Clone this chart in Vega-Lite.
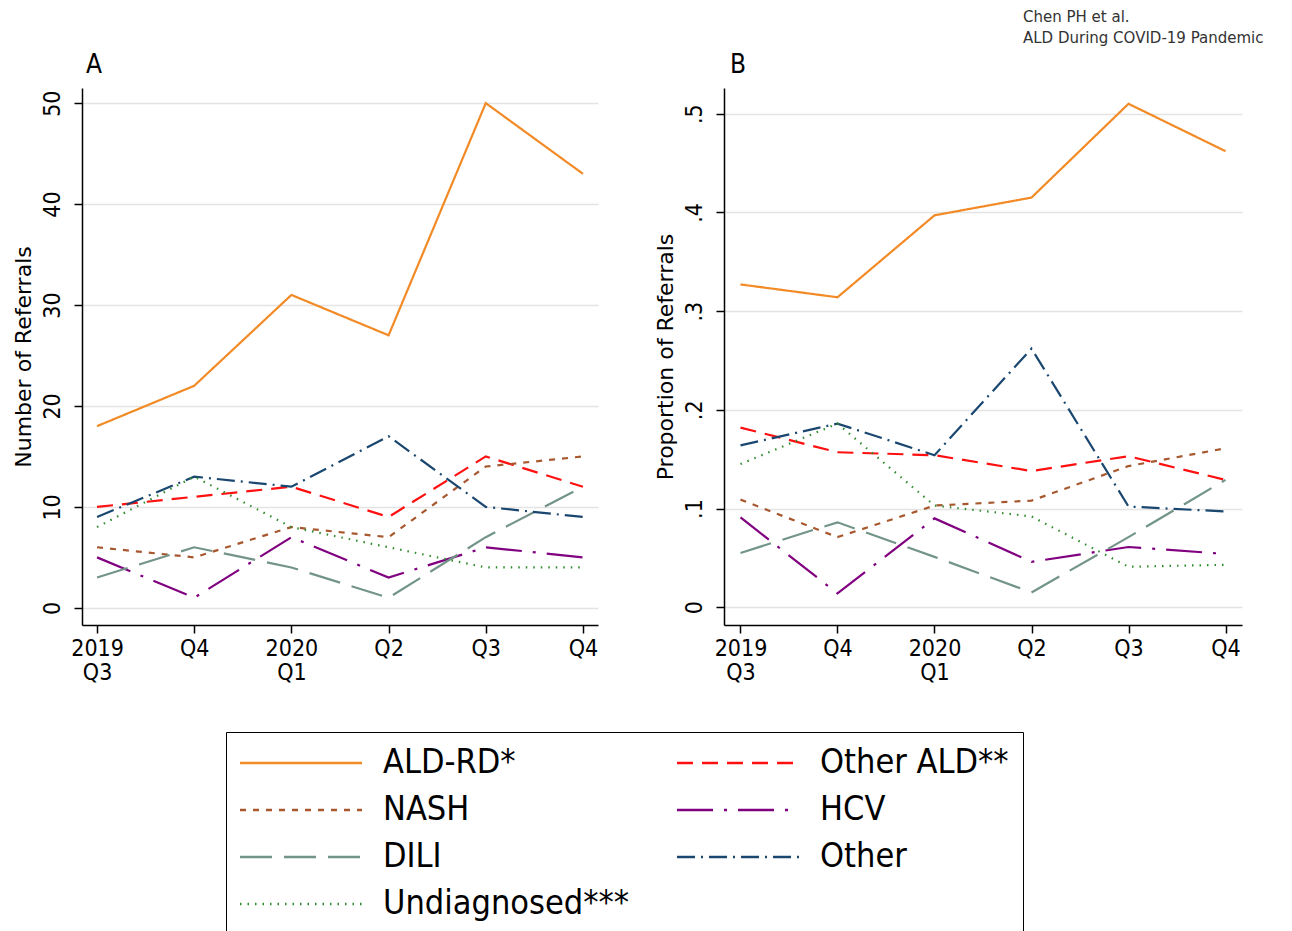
{
  "$schema": "https://vega.github.io/schema/vega-lite/v6.json",
  "background": "white",
  "padding": {"left": 12, "top": 10, "right": 4, "bottom": 0},
  "datasets": {
    "d": [
      {"quarter": "2019 Q3", "dx": "ALD-RD*", "count": 18, "prop": 0.327},
      {"quarter": "2019 Q4", "dx": "ALD-RD*", "count": 22, "prop": 0.314},
      {"quarter": "2020 Q1", "dx": "ALD-RD*", "count": 31, "prop": 0.397},
      {"quarter": "2020 Q2", "dx": "ALD-RD*", "count": 27, "prop": 0.415},
      {"quarter": "2020 Q3", "dx": "ALD-RD*", "count": 50, "prop": 0.510},
      {"quarter": "2020 Q4", "dx": "ALD-RD*", "count": 43, "prop": 0.462},
      {"quarter": "2019 Q3", "dx": "Other ALD**", "count": 10, "prop": 0.182},
      {"quarter": "2019 Q4", "dx": "Other ALD**", "count": 11, "prop": 0.157},
      {"quarter": "2020 Q1", "dx": "Other ALD**", "count": 12, "prop": 0.154},
      {"quarter": "2020 Q2", "dx": "Other ALD**", "count": 9, "prop": 0.138},
      {"quarter": "2020 Q3", "dx": "Other ALD**", "count": 15, "prop": 0.153},
      {"quarter": "2020 Q4", "dx": "Other ALD**", "count": 12, "prop": 0.129},
      {"quarter": "2019 Q3", "dx": "NASH", "count": 6, "prop": 0.109},
      {"quarter": "2019 Q4", "dx": "NASH", "count": 5, "prop": 0.071},
      {"quarter": "2020 Q1", "dx": "NASH", "count": 8, "prop": 0.103},
      {"quarter": "2020 Q2", "dx": "NASH", "count": 7, "prop": 0.108},
      {"quarter": "2020 Q3", "dx": "NASH", "count": 14, "prop": 0.143},
      {"quarter": "2020 Q4", "dx": "NASH", "count": 15, "prop": 0.161},
      {"quarter": "2019 Q3", "dx": "HCV", "count": 5, "prop": 0.091},
      {"quarter": "2019 Q4", "dx": "HCV", "count": 1, "prop": 0.014},
      {"quarter": "2020 Q1", "dx": "HCV", "count": 7, "prop": 0.090},
      {"quarter": "2020 Q2", "dx": "HCV", "count": 3, "prop": 0.046},
      {"quarter": "2020 Q3", "dx": "HCV", "count": 6, "prop": 0.061},
      {"quarter": "2020 Q4", "dx": "HCV", "count": 5, "prop": 0.054},
      {"quarter": "2019 Q3", "dx": "DILI", "count": 3, "prop": 0.055},
      {"quarter": "2019 Q4", "dx": "DILI", "count": 6, "prop": 0.086},
      {"quarter": "2020 Q1", "dx": "DILI", "count": 4, "prop": 0.051},
      {"quarter": "2020 Q2", "dx": "DILI", "count": 1, "prop": 0.015},
      {"quarter": "2020 Q3", "dx": "DILI", "count": 7, "prop": 0.071},
      {"quarter": "2020 Q4", "dx": "DILI", "count": 12, "prop": 0.129},
      {"quarter": "2019 Q3", "dx": "Other", "count": 9, "prop": 0.164},
      {"quarter": "2019 Q4", "dx": "Other", "count": 13, "prop": 0.186},
      {"quarter": "2020 Q1", "dx": "Other", "count": 12, "prop": 0.154},
      {"quarter": "2020 Q2", "dx": "Other", "count": 17, "prop": 0.262},
      {"quarter": "2020 Q3", "dx": "Other", "count": 10, "prop": 0.102},
      {"quarter": "2020 Q4", "dx": "Other", "count": 9, "prop": 0.097},
      {"quarter": "2019 Q3", "dx": "Undiagnosed***", "count": 8, "prop": 0.145},
      {"quarter": "2019 Q4", "dx": "Undiagnosed***", "count": 13, "prop": 0.186},
      {"quarter": "2020 Q1", "dx": "Undiagnosed***", "count": 8, "prop": 0.103},
      {"quarter": "2020 Q2", "dx": "Undiagnosed***", "count": 6, "prop": 0.092},
      {"quarter": "2020 Q3", "dx": "Undiagnosed***", "count": 4, "prop": 0.041},
      {"quarter": "2020 Q4", "dx": "Undiagnosed***", "count": 4, "prop": 0.043}
    ]
  },
  "title": {
    "text": ["Chen PH et al.", "ALD During COVID-19 Pandemic"],
    "anchor": "end",
    "align": "left",
    "dx": -219,
    "font": "DejaVu Sans",
    "fontSize": 15,
    "fontWeight": "normal",
    "color": "#333333",
    "lineHeight": 21,
    "offset": 6
  },
  "spacing": 55,
  "config": {
    "view": {"stroke": null},
    "axis": {
      "domainColor": "black",
      "domainWidth": 1.5,
      "tickColor": "black",
      "tickWidth": 1.5,
      "tickSize": 8,
      "labelColor": "black",
      "labelFont": "DejaVu Sans Condensed",
      "labelFontSize": 23,
      "titleColor": "black",
      "titleFont": "DejaVu Sans",
      "titleFontSize": 22,
      "titleFontWeight": "normal",
      "gridColor": "#e4e4e4",
      "gridWidth": 1.5
    },
    "legend": {
      "orient": "none",
      "legendX": 144,
      "legendY": 644,
      "columns": 2,
      "symbolType": "M-1.7,0H10.5",
      "symbolSize": 400,
      "symbolStrokeWidth": 2.5,
      "labelFont": "DejaVu Sans Condensed",
      "labelFontSize": 34,
      "labelColor": "black",
      "labelLimit": 500,
      "labelOffset": 109,
      "columnPadding": 42,
      "rowPadding": 13,
      "strokeColor": "black",
      "fillColor": "white",
      "padding": 14,
      "title": null
    }
  },
  "resolve": {"scale": {"color": "shared", "strokeDash": "shared"}},
  "hconcat": [
    {
      "width": 516,
      "height": 537,
      "data": {"name": "d"},
      "title": {"text": "A", "anchor": "start", "frame": "group", "dx": 4, "font": "DejaVu Sans Condensed", "fontSize": 26, "fontWeight": "normal", "color": "black", "offset": 10},
      "mark": {"type": "line", "strokeWidth": 2.2},
      "encoding": {
        "x": {
          "field": "quarter", "type": "ordinal",
          "sort": ["2019 Q3", "2019 Q4", "2020 Q1", "2020 Q2", "2020 Q3", "2020 Q4"],
          "scale": {"type": "point", "padding": 0.155},
          "axis": {"title": null, "grid": false, "labelAngle": 0, "labelPadding": 4, "labelLineHeight": 24,
            "labelExpr": "datum.value == '2019 Q3' ? ['2019','Q3'] : datum.value == '2020 Q1' ? ['2020','Q1'] : substring(datum.value, 5)"}
        },
        "y": {
          "field": "count", "type": "quantitative",
          "scale": {"domain": [-1.7, 51.5], "nice": false, "zero": false},
          "axis": {"values": [0, 10, 20, 30, 40, 50], "title": "Number of Referrals", "labelAngle": 270, "labelPadding": 10, "titlePadding": 6}
        },
        "color": {
          "field": "dx", "type": "nominal",
          "scale": {
            "domain": ["ALD-RD*", "NASH", "DILI", "Undiagnosed***", "Other ALD**", "HCV", "Other"],
            "range": ["#F28A26", "#A8582E", "#739488", "#2E8B2E", "#FF1010", "#800080", "#1A476F"]
          }
        },
        "strokeDash": {
          "field": "dx", "type": "nominal",
          "scale": {
            "domain": ["ALD-RD*", "NASH", "DILI", "Undiagnosed***", "Other ALD**", "HCV", "Other"],
            "range": [[1, 0], [6, 7], [32, 12], [1.5, 6], [16, 9], [36, 11, 3, 11], [18, 6, 2, 6]]
          }
        }
      }
    },
    {
      "width": 518,
      "height": 537,
      "data": {"name": "d"},
      "title": {"text": "B", "anchor": "start", "frame": "group", "dx": 6, "font": "DejaVu Sans Condensed", "fontSize": 26, "fontWeight": "normal", "color": "black", "offset": 10},
      "mark": {"type": "line", "strokeWidth": 2.2},
      "encoding": {
        "x": {
          "field": "quarter", "type": "ordinal",
          "sort": ["2019 Q3", "2019 Q4", "2020 Q1", "2020 Q2", "2020 Q3", "2020 Q4"],
          "scale": {"type": "point", "padding": 0.17},
          "axis": {"title": null, "grid": false, "labelAngle": 0, "labelPadding": 4, "labelLineHeight": 24,
            "labelExpr": "datum.value == '2019 Q3' ? ['2019','Q3'] : datum.value == '2020 Q1' ? ['2020','Q1'] : substring(datum.value, 5)"}
        },
        "y": {
          "field": "prop", "type": "quantitative",
          "scale": {"domain": [-0.018, 0.526], "nice": false, "zero": false},
          "axis": {"values": [0, 0.1, 0.2, 0.3, 0.4, 0.5], "title": "Proportion of Referrals", "labelAngle": 270, "labelPadding": 10, "titlePadding": 6,
            "labelExpr": "datum.value == 0 ? '0' : replace(format(datum.value, '.1f'), '0.', '.')"}
        },
        "color": {"field": "dx", "type": "nominal"},
        "strokeDash": {"field": "dx", "type": "nominal"}
      }
    }
  ]
}
